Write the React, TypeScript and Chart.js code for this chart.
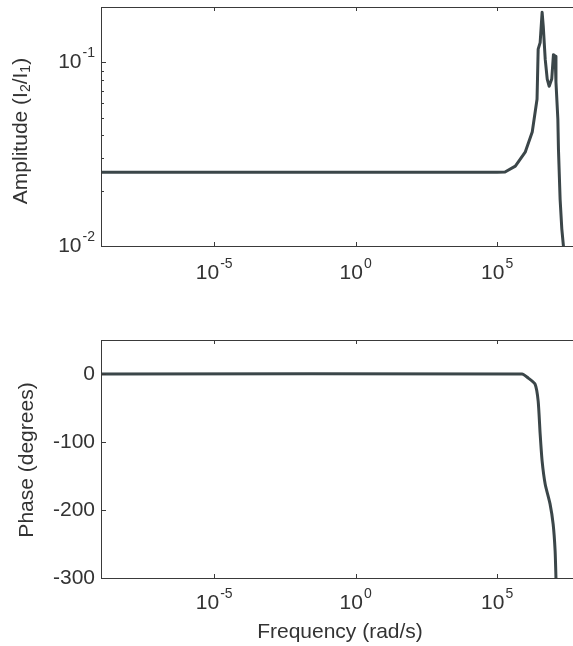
import React, { useEffect, useRef } from 'react';
import { Chart, registerables } from 'chart.js';

Chart.register(...registerables);

// ---- data ----
const ampFreq = [1e-9, 1e5, 1.9e5, 4.4e5, 9.8e5, 1.74e6, 2.57e6, 2.82e6, 3.31e6, 3.89e6, 4.27e6, 5.0e6, 5.89e6, 6.92e6, 8.51e6, 9.77e6, 1.12e7, 1.2e7, 1.4e7, 1.47e7, 1.68e7, 1.93e7, 2.2e7];
const ampValues = [0.0252, 0.0252, 0.0253, 0.0272, 0.0324, 0.0417, 0.0629, 0.118, 0.128, 0.187, 0.157, 0.104, 0.081, 0.074, 0.081, 0.11, 0.108, 0.078, 0.049, 0.0336, 0.018, 0.0124, 0.01];

const phaseFreq = [1e-9, 7.6e5, 1.26e6, 2.19e6, 2.82e6, 3.31e6, 3.89e6, 5.0e6, 7.41e6, 9.55e6, 1.12e7, 1.2e7];
const phaseValues = [0, 0, -6, -15, -40, -88, -128, -162, -191, -221, -260, -300];

const xTickExponents = [-5, 0, 5];
const ampTickExponents = [-2, -1];
const ampMinorTicks = [0.02, 0.03, 0.04, 0.05, 0.06, 0.07, 0.08, 0.09, 0.2];
const phaseTicks = [0, -100, -200, -300];

// visible part of the frequency axis (the figure is cropped on the right)
const X_MIN = 1e-9;
const X_MAX = 4.8e7;

const FONT = '"Liberation Sans", Arial, Helvetica, sans-serif';
const TEXT = '#333333';
const AXIS = '#3a3a3a';
const LINE = '#3b4649';

function drawPow(ctx: CanvasRenderingContext2D, x: number, y: number, exp: string, align: 'center' | 'right') {
  ctx.font = `21px ${FONT}`;
  const bw = ctx.measureText('10').width;
  ctx.font = `14px ${FONT}`;
  const ew = ctx.measureText(exp).width;
  const total = bw + ew + 1;
  const sx = align === 'center' ? x - total / 2 : x - total;
  ctx.textAlign = 'left';
  ctx.textBaseline = 'middle';
  ctx.fillStyle = TEXT;
  ctx.font = `21px ${FONT}`;
  ctx.fillText('10', sx, y);
  ctx.font = `14px ${FONT}`;
  ctx.fillText(exp, sx + bw + 1, y - 9);
}

function drawFrame(chart: any) {
  const { ctx, chartArea, width } = chart;
  const { left, right, top, bottom } = chartArea;
  ctx.save();
  // keep the cropped right edge open (no right-hand border)
  ctx.clearRect(right - 4, top + 1, width - right + 4, bottom - top - 1);
  ctx.strokeStyle = AXIS;
  ctx.lineWidth = 1;
  ctx.beginPath();
  ctx.moveTo(left + 0.5, top + 0.5);
  ctx.lineTo(right, top + 0.5);
  ctx.stroke();
  ctx.beginPath();
  ctx.moveTo(left + 0.5, top);
  ctx.lineTo(left + 0.5, bottom + 0.5);
  ctx.lineTo(right, bottom + 0.5);
  ctx.stroke();
  const xs = chart.scales.x;
  ctx.beginPath();
  xTickExponents.forEach((e) => {
    const px = Math.round(xs.getPixelForValue(Math.pow(10, e))) + 0.5;
    ctx.moveTo(px, bottom);
    ctx.lineTo(px, bottom - 4);
    ctx.moveTo(px, top);
    ctx.lineTo(px, top + 4);
  });
  ctx.stroke();
  ctx.restore();
}

const ampPlugin = {
  id: 'ampDecor',
  afterDraw(chart: any) {
    const { ctx, chartArea } = chart;
    const { left, bottom } = chartArea;
    drawFrame(chart);
    const ys = chart.scales.y;
    const xs = chart.scales.x;
    ctx.save();
    ctx.strokeStyle = AXIS;
    ctx.lineWidth = 1;
    ctx.beginPath();
    ampTickExponents.forEach((e) => {
      const py = Math.round(ys.getPixelForValue(Math.pow(10, e))) + 0.5;
      ctx.moveTo(left, py);
      ctx.lineTo(left + 5, py);
    });
    ampMinorTicks.forEach((v) => {
      const py = Math.round(ys.getPixelForValue(v)) + 0.5;
      ctx.moveTo(left, py);
      ctx.lineTo(left + 3, py);
    });
    ctx.stroke();
    ampTickExponents.forEach((e) => {
      drawPow(ctx, 95, ys.getPixelForValue(Math.pow(10, e)), String(e), 'right');
    });
    xTickExponents.forEach((e) => {
      drawPow(ctx, xs.getPixelForValue(Math.pow(10, e)), bottom + 27, String(e), 'center');
    });
    ctx.translate(21, 131);
    ctx.rotate(-Math.PI / 2);
    const segs = [
      { t: 'Amplitude (I', s: 21, dy: 0 },
      { t: '2', s: 14, dy: 5 },
      { t: '/I', s: 21, dy: 0 },
      { t: '1', s: 14, dy: 5 },
      { t: ')', s: 21, dy: 0 },
    ];
    let total = 0;
    segs.forEach((g) => {
      ctx.font = `${g.s}px ${FONT}`;
      total += ctx.measureText(g.t).width;
    });
    let cx = -total / 2;
    ctx.textAlign = 'left';
    ctx.textBaseline = 'middle';
    ctx.fillStyle = TEXT;
    segs.forEach((g) => {
      ctx.font = `${g.s}px ${FONT}`;
      ctx.fillText(g.t, cx, g.dy);
      cx += ctx.measureText(g.t).width;
    });
    ctx.restore();
  },
};

const phasePlugin = {
  id: 'phaseDecor',
  afterDraw(chart: any) {
    const { ctx, chartArea } = chart;
    const { left, bottom } = chartArea;
    drawFrame(chart);
    const ys = chart.scales.y;
    const xs = chart.scales.x;
    ctx.save();
    ctx.strokeStyle = AXIS;
    ctx.lineWidth = 1;
    ctx.beginPath();
    phaseTicks.forEach((v) => {
      const py = Math.round(ys.getPixelForValue(v)) + 0.5;
      ctx.moveTo(left, py);
      ctx.lineTo(left + 5, py);
    });
    ctx.stroke();
    ctx.fillStyle = TEXT;
    ctx.font = `21px ${FONT}`;
    ctx.textAlign = 'right';
    ctx.textBaseline = 'middle';
    phaseTicks.forEach((v) => {
      ctx.fillText(String(v), 95, ys.getPixelForValue(v));
    });
    xTickExponents.forEach((e) => {
      drawPow(ctx, xs.getPixelForValue(Math.pow(10, e)), bottom + 25, String(e), 'center');
    });
    ctx.fillStyle = TEXT;
    ctx.font = `21px ${FONT}`;
    ctx.textAlign = 'center';
    ctx.textBaseline = 'middle';
    ctx.fillText('Frequency (rad/s)', 340, 332);
    ctx.translate(27, 160);
    ctx.rotate(-Math.PI / 2);
    ctx.fillText('Phase (degrees)', 0, 0);
    ctx.restore();
  },
};

function hiddenScale(type: string, min: number, max: number) {
  return {
    type,
    min,
    max,
    display: true,
    grid: { display: false, drawTicks: false },
    border: { display: false },
    ticks: { display: false },
  } as any;
}

export default function App() {
  const ampRef = useRef<HTMLCanvasElement>(null);
  const phaseRef = useRef<HTMLCanvasElement>(null);

  useEffect(() => {
    const ampChart = new Chart(ampRef.current as HTMLCanvasElement, {
      type: 'line',
      data: {
        datasets: [
          {
            data: ampFreq.map((f, i) => ({ x: f, y: ampValues[i] })),
            borderColor: LINE,
            borderWidth: 3,
            pointRadius: 0,
            tension: 0,
            borderJoinStyle: 'round',
            borderCapStyle: 'round',
          } as any,
        ],
      },
      options: {
        responsive: false,
        animation: false,
        events: [],
        layout: { padding: { left: 101, top: 7, right: 0, bottom: 54 } },
        plugins: { legend: { display: false }, tooltip: { enabled: false } },
        scales: {
          x: hiddenScale('logarithmic', X_MIN, X_MAX),
          y: hiddenScale('logarithmic', 0.01, 0.2),
        },
      },
      plugins: [ampPlugin],
    });

    const phaseChart = new Chart(phaseRef.current as HTMLCanvasElement, {
      type: 'line',
      data: {
        datasets: [
          {
            data: phaseFreq.map((f, i) => ({ x: f, y: phaseValues[i] })),
            borderColor: LINE,
            borderWidth: 3,
            pointRadius: 0,
            tension: 0.2,
            borderJoinStyle: 'round',
            borderCapStyle: 'round',
          } as any,
        ],
      },
      options: {
        responsive: false,
        animation: false,
        events: [],
        layout: { padding: { left: 101, top: 40, right: 0, bottom: 68 } },
        plugins: { legend: { display: false }, tooltip: { enabled: false } },
        scales: {
          x: hiddenScale('logarithmic', X_MIN, X_MAX),
          y: hiddenScale('linear', -300, 50),
        },
      },
      plugins: [phasePlugin],
    });

    return () => {
      ampChart.destroy();
      phaseChart.destroy();
    };
  }, []);

  return (
    <div style={{ position: 'fixed', left: 0, top: 0, width: 573, height: 646, overflow: 'hidden', background: '#ffffff' }}>
      <canvas ref={ampRef} width={573} height={300} style={{ position: 'absolute', left: 0, top: 0 }} />
      <canvas ref={phaseRef} width={573} height={346} style={{ position: 'absolute', left: 0, top: 300 }} />
    </div>
  );
}
